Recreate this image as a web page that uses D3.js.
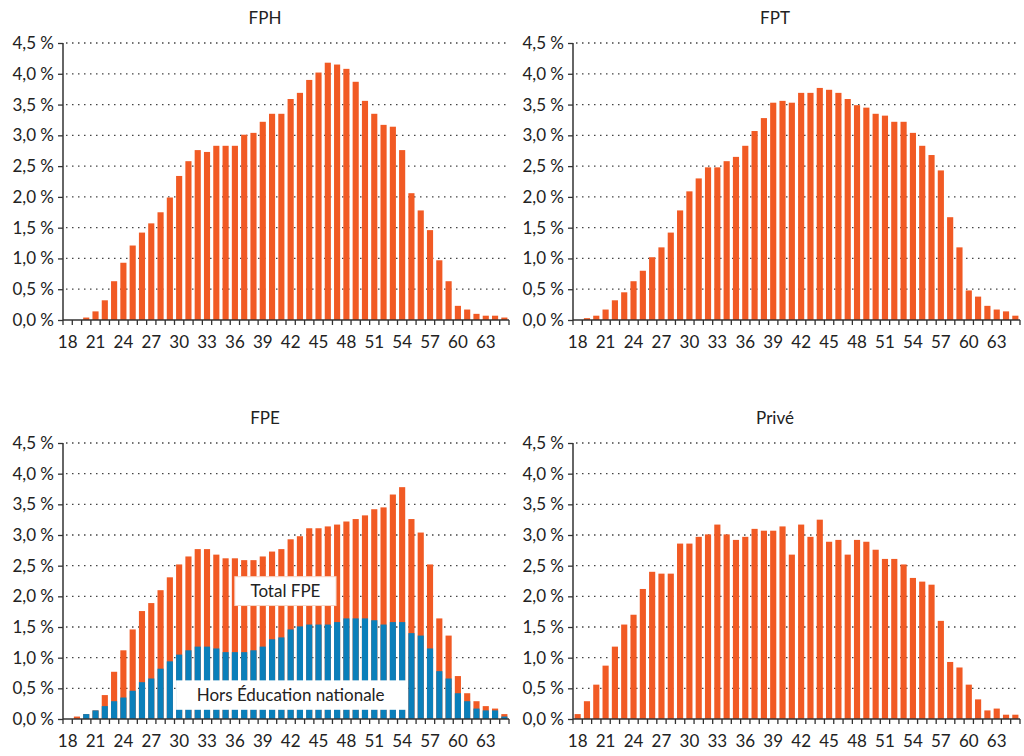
<!DOCTYPE html>
<html>
<head>
<meta charset="utf-8">
<script src="https://cdn.jsdelivr.net/npm/d3@7"></script>
<style>
  body { margin: 0; background: #fff; }
  svg text { font-family: Lato, "Open Sans", sans-serif; fill: #222; }
</style>
</head>
<body>
<svg id="chart" width="1024" height="756"></svg>
<script>
// ages 18 -> 65
const ages = [18,19,20,21,22,23,24,25,26,27,28,29,30,31,32,33,34,35,36,37,38,39,40,41,
              42,43,44,45,46,47,48,49,50,51,52,53,54,55,56,57,58,59,60,61,62,63,64,65];
const ageLabels = [18,21,24,27,30,33,36,39,42,45,48,51,54,57,60,63];
const yTicks = [0,0.5,1,1.5,2,2.5,3,3.5,4,4.5];

// share of staff by age, in %
const fph = [0,0,0.04,0.14,0.32,0.63,0.93,1.21,1.42,1.57,1.75,1.99,2.34,2.58,2.76,2.73,
             2.83,2.83,2.83,3.01,3.04,3.22,3.35,3.35,3.59,3.69,3.90,4.02,4.18,4.15,4.08,3.87,
             3.56,3.35,3.17,3.14,2.76,2.06,1.78,1.46,0.97,0.63,0.23,0.17,0.10,0.07,0.07,0.04];
const fpt = [0,0.03,0.07,0.17,0.32,0.45,0.63,0.80,1.02,1.18,1.42,1.78,2.09,2.30,2.48,2.48,
             2.58,2.65,2.83,3.07,3.28,3.53,3.56,3.53,3.69,3.69,3.77,3.74,3.69,3.59,3.49,3.45,
             3.35,3.32,3.22,3.22,3.04,2.83,2.68,2.43,1.67,1.18,0.48,0.38,0.23,0.17,0.14,0.07];
const fpeTotal = [0,0.04,0.08,0.14,0.39,0.77,1.12,1.46,1.76,1.89,2.10,2.31,2.52,2.65,2.77,2.77,
                  2.68,2.62,2.62,2.59,2.59,2.65,2.73,2.77,2.93,2.98,3.11,3.11,3.14,3.17,3.22,3.26,
                  3.32,3.42,3.45,3.66,3.78,3.26,3.04,2.52,1.64,1.36,0.70,0.42,0.29,0.21,0.17,0.08];
const fpeHorsEN = [0,0,0.08,0.14,0.21,0.29,0.35,0.46,0.60,0.66,0.82,0.94,1.05,1.12,1.18,1.18,
                   1.15,1.09,1.09,1.09,1.12,1.18,1.30,1.33,1.46,1.51,1.54,1.54,1.54,1.58,1.64,1.64,
                   1.64,1.61,1.54,1.58,1.58,1.40,1.36,1.15,0.78,0.66,0.42,0.29,0.17,0.14,0.14,0.04];
const prive = [0.08,0.29,0.56,0.87,1.18,1.54,1.70,2.12,2.40,2.37,2.37,2.86,2.86,2.97,3.01,3.17,
               3.01,2.92,2.97,3.10,3.07,3.07,3.14,2.68,3.17,2.97,3.25,2.89,2.92,2.68,2.92,2.89,
               2.76,2.61,2.61,2.52,2.30,2.24,2.19,1.60,0.93,0.84,0.56,0.32,0.14,0.17,0.07,0.07];

const ORANGE = '#f15a24';
const BLUE = '#0a7fba';
const fmt = d => d3.format('.1f')(d).replace('.', ',') + ' %';

let svg = d3.select('#chart');

function drawPanel(title, left, right, top, bottom, series) {
    let x = d3.scaleBand().domain(ages).range([left, right]).paddingInner(0.34).paddingOuter(0.17);
    let y = d3.scaleLinear().domain([0, 4.5]).range([bottom, top]);
    let g = svg.append('g');

    g.append('text')
        .attr('x', left + 202)
        .attr('y', top - 19)
        .attr('text-anchor', 'middle')
        .attr('font-size', 17)
        .text(title);

    // dotted grid
    g.append('g').selectAll('line')
        .data(yTicks.slice(1))
        .join('line')
        .attr('x1', left + 3).attr('x2', right)
        .attr('y1', d => y(d)).attr('y2', d => y(d))
        .attr('stroke', '#444')
        .attr('stroke-width', 1.3)
        .attr('stroke-dasharray', '1.5,4.5');

    // bars
    series.forEach(s => {
        g.append('g').selectAll('rect')
            .data(ages.map((a, i) => ({age: a, v: s.values[i]})).filter(d => d.v > 0))
            .join('rect')
            .attr('x', d => x(d.age))
            .attr('width', x.bandwidth())
            .attr('y', d => y(d.v))
            .attr('height', d => y(0) - y(d.v))
            .attr('fill', s.color);
    });

    // y axis
    g.append('g')
        .attr('transform', `translate(${left},0)`)
        .call(d3.axisLeft(y).tickValues(yTicks).tickFormat(fmt).tickSize(5).tickPadding(4))
        .call(a => a.select('.domain').attr('stroke', '#333').attr('stroke-width', 1.5).attr('d', `M0,${top}V${bottom}`))
        .call(a => a.selectAll('.tick line').attr('stroke', '#333').attr('stroke-width', 1.3))
        .call(a => a.selectAll('.tick text').attr('font-size', 17).attr('fill', '#222'));

    // x axis: ticks at every band edge, labels every 3 years
    let edges = ages.map(a => x(a) - x.step() * x.paddingInner() / 2).concat([right]);
    let xa = g.append('g');
    xa.append('line')
        .attr('x1', left).attr('x2', right)
        .attr('y1', bottom).attr('y2', bottom)
        .attr('stroke', '#333').attr('stroke-width', 1.5);
    xa.selectAll('line.tk')
        .data(edges)
        .join('line')
        .attr('class', 'tk')
        .attr('x1', d => d).attr('x2', d => d)
        .attr('y1', bottom).attr('y2', bottom + 5)
        .attr('stroke', '#333').attr('stroke-width', 1.3);
    xa.selectAll('text')
        .data(ageLabels)
        .join('text')
        .attr('x', d => x(d) + x.bandwidth() / 2)
        .attr('y', bottom + 28)
        .attr('text-anchor', 'middle')
        .attr('font-size', 17)
        .text(d => d);

    return {x, y, g};
}

drawPanel('FPH', 63, 509, 43, 320, [{values: fph, color: ORANGE}]);
drawPanel('FPT', 573, 1020, 43, 320, [{values: fpt, color: ORANGE}]);
let fpe = drawPanel('FPE', 63, 509, 443, 719, [{values: fpeTotal, color: ORANGE}, {values: fpeHorsEN, color: BLUE}]);
drawPanel('Privé', 573, 1020, 443, 719, [{values: prive, color: ORANGE}]);

// labels inside FPE panel
let fx = fpe.x, fy = fpe.y;
let x0 = fx(30) - 2, x1 = fx(54) + fx.bandwidth() + 2;
fpe.g.append('rect')
    .attr('x', x0 + 2).attr('width', x1 - x0 - 2)
    .attr('y', fy(0.63)).attr('height', fy(0.15) - fy(0.63))
    .attr('fill', '#fff');
fpe.g.append('text')
    .attr('x', (x0 + x1) / 2).attr('y', fy(0.39) + 6)
    .attr('text-anchor', 'middle').attr('font-size', 17)
    .text('Hors Éducation nationale');

let tx0 = fx(36) + 3, tx1 = fx(47) + 2;
fpe.g.append('rect')
    .attr('x', tx0).attr('width', tx1 - tx0)
    .attr('y', fy(2.32)).attr('height', fy(1.85) - fy(2.32))
    .attr('fill', '#fff').attr('stroke', '#f6d5c6').attr('stroke-width', 1);
fpe.g.append('text')
    .attr('x', (tx0 + tx1) / 2).attr('y', fy(2.08) + 6)
    .attr('text-anchor', 'middle').attr('font-size', 17)
    .text('Total FPE');
</script>
</body>
</html>
